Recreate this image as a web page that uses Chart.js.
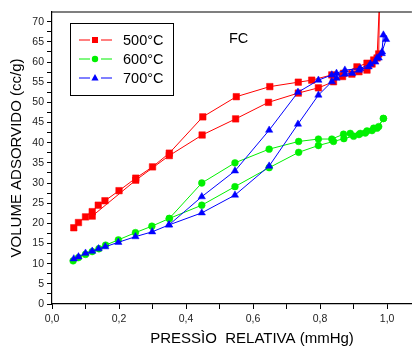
<!DOCTYPE html>
<html>
<head>
<meta charset="utf-8">
<script src="https://cdn.jsdelivr.net/npm/chart.js@4/dist/chart.umd.min.js"></script>
<style>
  body { margin: 0; background: #fff; }
  #wrap { width: 417px; height: 347px; position: relative; }
</style>
</head>
<body>
<div id="wrap"><canvas id="myChart"></canvas></div>
<script>
// 500°C
const p500Ads = [0.065, 0.079, 0.10, 0.12, 0.138, 0.158, 0.20, 0.25, 0.30, 0.35, 0.45, 0.55, 0.65, 0.735, 0.775, 0.835, 0.87, 0.91, 0.94, 0.96, 0.975, 0.98];
const v500Ads = [18.9, 20.2, 21.6, 22.9, 24.5, 25.6, 28.1, 31.2, 34.0, 37.4, 46.4, 51.4, 53.9, 55.0, 55.5, 56.8, 57.2, 58.8, 59.7, 60.5, 62.0, 90];
const p500Des = [0.985, 0.97, 0.955, 0.94, 0.916, 0.895, 0.867, 0.84, 0.795, 0.735, 0.646, 0.548, 0.448, 0.35, 0.25, 0.12];
const v500Des = [90, 61.0, 59.5, 58.0, 57.6, 57.0, 56.4, 55.1, 53.6, 52.3, 50.0, 45.9, 41.9, 36.8, 30.7, 21.8];

// 600°C
const p600Ads = [0.063, 0.079, 0.10, 0.12, 0.14, 0.16, 0.198, 0.249, 0.298, 0.35, 0.447, 0.546, 0.648, 0.736, 0.795, 0.84, 0.871, 0.90, 0.916, 0.935, 0.955, 0.97, 0.989];
const v600Ads = [10.7, 11.5, 12.3, 13.0, 13.7, 14.6, 15.9, 17.7, 19.3, 21.2, 24.5, 29.1, 33.8, 37.6, 39.3, 40.3, 41.0, 41.6, 42.0, 42.4, 43.0, 43.6, 46.0];
const p600Des = [0.989, 0.975, 0.96, 0.94, 0.92, 0.89, 0.87, 0.835, 0.795, 0.736, 0.648, 0.546, 0.447, 0.35];
const v600Des = [46.0, 44.0, 43.6, 42.9, 42.3, 42.3, 42.1, 40.9, 40.9, 40.3, 38.4, 35.0, 30.0, 21.2];

// 700°C
const p700Ads = [0.065, 0.079, 0.10, 0.12, 0.139, 0.159, 0.198, 0.249, 0.299, 0.349, 0.447, 0.546, 0.648, 0.734, 0.795, 0.835, 0.849, 0.874, 0.896, 0.916, 0.945, 0.965, 0.975, 0.984, 0.989];
const v700Ads = [11.2, 11.7, 12.6, 13.1, 13.7, 14.2, 15.3, 16.7, 17.9, 19.6, 22.6, 27.0, 34.2, 44.6, 51.8, 55.1, 56.0, 57.0, 57.2, 58.0, 58.8, 60.0, 61.0, 62.1, 66.7];
const p700Des = [0.997, 0.985, 0.97, 0.95, 0.92, 0.874, 0.849, 0.835, 0.795, 0.734, 0.648, 0.546, 0.447, 0.349];
const v700Des = [65.6, 62.5, 61.0, 59.5, 58.4, 58.0, 57.2, 56.8, 55.5, 52.5, 43.1, 33.0, 26.6, 19.6];

const xTicks = [0, 0.1, 0.2, 0.3, 0.4, 0.5, 0.6, 0.7, 0.8, 0.9, 1.0];
const yTicks = [0, 2.5, 5, 7.5, 10, 12.5, 15, 17.5, 20, 22.5, 25, 27.5, 30, 32.5, 35, 37.5, 40, 42.5, 45, 47.5, 50, 52.5, 55, 57.5, 60, 62.5, 65, 67.5, 70];

const seriesNames = ['500°C', '600°C', '700°C'];
const seriesColors = ['#ff0000', '#00f000', '#0000ff'];
const seriesStyles = ['rect', 'circle', 'triangle'];

function loop(pa, va, pd, vd) {
    const pts = pa.map((p, i) => ({ x: p, y: va[i] }));
    return pts.concat(pd.map((p, i) => ({ x: p, y: vd[i] })));
}

const loops = [
    loop(p500Ads, v500Ads, p500Des, v500Des),
    loop(p600Ads, v600Ads, p600Des, v600Des),
    loop(p700Ads, v700Ads, p700Des, v700Des)
];
const radii = [4.6, 3.4, 4.2];
const orders = [2, 1, 0];

const FONT = "'Liberation Sans', Arial, sans-serif";

const extras = {
    id: 'extras',
    afterDraw(chart) {
        const ctx = chart.ctx;
        const a = chart.chartArea;
        ctx.save();
        // top frame line
        ctx.strokeStyle = '#000';
        ctx.lineWidth = 1.2;
        ctx.beginPath();
        ctx.moveTo(a.left, a.top);
        ctx.lineTo(a.right, a.top);
        ctx.stroke();

        // legend box
        ctx.fillStyle = '#fff';
        ctx.fillRect(70, 23, 103, 72);
        ctx.lineWidth = 1;
        ctx.strokeRect(70.5, 23.5, 103, 72);
        for (let i = 0; i < 3; i++) {
            const y = 40 + i * 19;
            ctx.strokeStyle = seriesColors[i];
            ctx.fillStyle = seriesColors[i];
            ctx.lineWidth = 1;
            ctx.beginPath();
            ctx.moveTo(79, y); ctx.lineTo(90, y);
            ctx.moveTo(101, y); ctx.lineTo(112, y);
            ctx.stroke();
            ctx.beginPath();
            if (seriesStyles[i] === 'rect') {
                ctx.rect(92, y - 3, 6, 6);
            } else if (seriesStyles[i] === 'circle') {
                ctx.arc(95, y, 3.2, 0, Math.PI * 2);
            } else {
                ctx.moveTo(95, y - 4); ctx.lineTo(98.6, y + 2.5); ctx.lineTo(91.4, y + 2.5); ctx.closePath();
            }
            ctx.fill();
            ctx.fillStyle = '#000';
            ctx.font = '14.5px ' + FONT;
            ctx.textBaseline = 'middle';
            ctx.textAlign = 'left';
            ctx.fillText(seriesNames[i], 123, y + 1);
        }
        ctx.font = '14.5px ' + FONT;
        ctx.fillStyle = '#000';
        ctx.textBaseline = 'middle';
        ctx.fillText('FC', 229, 39);

        // x axis title (the original axis runs past the cropped right edge)
        ctx.font = '15px ' + FONT;
        ctx.textAlign = 'center';
        ctx.fillText('PRESSÌO  RELATIVA (mmHg)', 252, 339);
        ctx.restore();
    }
};

Chart.register(extras);

const canvasContext = document.getElementById('myChart').getContext('2d');
const config = {
    type: 'scatter',
    data: {
        datasets: loops.map((pts, i) => ({
            label: seriesNames[i],
            data: pts,
            showLine: true,
            borderColor: seriesColors[i],
            backgroundColor: seriesColors[i],
            borderWidth: 1,
            pointStyle: seriesStyles[i],
            pointRadius: radii[i],
            pointBorderWidth: 0.5,
            order: orders[i]
        }))
    },
    options: {
        responsive: true,
        maintainAspectRatio: false,
        animation: false,
        layout: { padding: { top: 12, left: 0, right: 0, bottom: 0 } },
        plugins: { legend: { display: false }, tooltip: { enabled: false } },
        scales: {
            x: {
                type: 'linear',
                min: 0,
                max: 1.074,
                afterBuildTicks: (axis) => { axis.ticks = xTicks.map(v => ({ value: v })); },
                afterFit: (axis) => { axis.height = 43; },
                border: { color: '#000', width: 1.2 },
                grid: { drawOnChartArea: false, color: '#000', tickLength: 5 },
                ticks: {
                    autoSkip: false,
                    maxRotation: 0,
                    padding: 4,
                    color: '#222',
                    font: { family: FONT, size: 10.5 },
                    callback: function (value) {
                        return Math.round(value * 10) % 2 === 0 ? value.toFixed(1).replace('.', ',') : '';
                    }
                },
                title: { display: false }
            },
            y: {
                type: 'linear',
                min: 0,
                max: 72.4,
                afterBuildTicks: (axis) => { axis.ticks = yTicks.map(v => ({ value: v })); },
                afterFit: (axis) => { axis.width = 52; },
                border: { color: '#000', width: 1.2 },
                grid: { drawOnChartArea: false, color: '#000', tickLength: 5 },
                ticks: {
                    autoSkip: false,
                    padding: 3,
                    color: '#222',
                    font: { family: FONT, size: 10.5 },
                    callback: function (value) {
                        return value % 5 === 0 ? String(value) : '';
                    }
                },
                title: {
                    display: true,
                    text: 'VOLUME ADSORVIDO (cc/g)',
                    color: '#000',
                    font: { family: FONT, size: 15 },
                    padding: { top: 8, bottom: 0 }
                }
            }
        }
    }
};
const myChart = new Chart(canvasContext, config);
</script>
</body>
</html>
